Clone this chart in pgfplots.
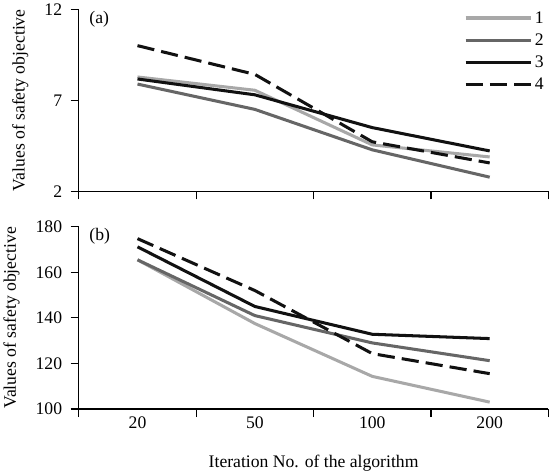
\documentclass[border=0pt]{standalone}
\usepackage{fontspec}
\setmainfont{Liberation Serif}
\usepackage{pgfplots}
\pgfplotsset{compat=1.18}

\definecolor{sone}{HTML}{A8A8A8}
\definecolor{stwo}{HTML}{666666}
\definecolor{sthree}{HTML}{111111}

\newcommand{\fs}{\fontsize{17.5}{21}\selectfont}

\pgfplotsset{
  panel/.style={
    scale only axis,
    width=464bp, height=180bp,
    xmin=-0.5, xmax=3.5,
    axis x line=bottom, axis y line=left,
    axis line style={-, line width=1.2bp},
    tick align=outside,
    major tick length=8bp,
    minor tick length=8bp,
    tick style={line width=1.2bp, black},
    minor x tick style={line width=1.2bp, black},
    xtick={0,1,2,3},
    major x tick style={draw=none},
    minor xtick={-0.5,0.5,1.5,2.5,3.5},
    /pgf/number format/assume math mode=true,
    tick label style={font=\fs},
    yticklabel style={xshift=-5bp},
    xticklabel style={yshift=4bp},
    label style={font=\fs},
    ylabel={Values of safety objective},
    ylabel shift=9bp,
    xlabel shift=19bp,
    every axis plot/.append style={line width=3bp, line join=round},
    clip=false,
  },
  s1/.style={color=sone},
  s2/.style={color=stwo},
  s3/.style={color=sthree},
  s4/.style={color=sthree, dash pattern=on 17bp off 7bp},
}

\begin{document}
\begin{tikzpicture}
\begin{axis}[panel, name=top,
  ymin=2, ymax=12, ytick={2,7,12},
  xticklabels={},
  legend style={draw=none, fill=none, at={(0.82,1.0)}, anchor=north west,
    font=\fs, row sep=5bp, inner sep=0pt,
    /tikz/every even column/.append style={column sep=0pt}},
  legend cell align=left,
  legend image code/.code={\draw[#1] (0bp,0bp) -- (65bp,0bp);},
]
\addplot[s1] coordinates {(0,8.28) (1,7.55) (2,4.55) (3,3.89)};
\addplot[s2] coordinates {(0,7.89) (1,6.5) (2,4.28) (3,2.78)};
\addplot[s3] coordinates {(0,8.17) (1,7.3) (2,5.5) (3,4.22)};
\addplot[s4] coordinates {(0,10.0) (1,8.42) (2,4.72) (3,3.56)};
\legend{1,2,3,4}
\node[anchor=north west, font=\fs] at (rel axis cs:0.015,1.01) {(a)};
\end{axis}

\begin{axis}[panel, at={(top.south west)}, anchor=north west, yshift=-35bp,
  ymin=100, ymax=180, ytick={100,120,...,180},
  xticklabels={20,50,100,200},
  xlabel={Iteration No. of the algorithm},
]
\addplot[s1] coordinates {(0,165.5) (1,137.5) (2,114.3) (3,103)};
\addplot[s2] coordinates {(0,165.5) (1,141) (2,129) (3,121.2)};
\addplot[s3] coordinates {(0,171.2) (1,145) (2,132.8) (3,130.9)};
\addplot[s4] coordinates {(0,174.8) (1,152) (2,124.3) (3,115.5)};
\node[anchor=north west, font=\fs] at (rel axis cs:0.015,1.01) {(b)};
\end{axis}
\end{tikzpicture}
\end{document}
